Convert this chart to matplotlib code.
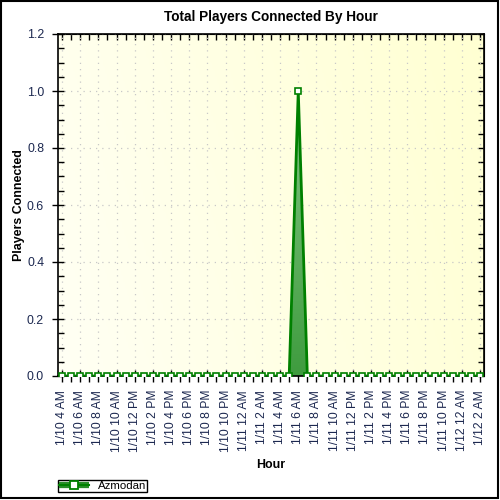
import numpy as np
import matplotlib
matplotlib.use("Agg")
import matplotlib.pyplot as plt
from matplotlib.colors import LinearSegmentedColormap
from matplotlib.patches import Rectangle
from matplotlib.lines import Line2D
from matplotlib.legend_handler import HandlerTuple

plt.rcParams['font.family'] = ['Liberation Sans', 'DejaVu Sans']

# ---- data ----
hour_labels = ["1/10 4 AM", "1/10 5 AM", "1/10 6 AM", "1/10 7 AM", "1/10 8 AM", "1/10 9 AM",
               "1/10 10 AM", "1/10 11 AM", "1/10 12 PM", "1/10 1 PM", "1/10 2 PM", "1/10 3 PM",
               "1/10 4 PM", "1/10 5 PM", "1/10 6 PM", "1/10 7 PM", "1/10 8 PM", "1/10 9 PM",
               "1/10 10 PM", "1/10 11 PM", "1/11 12 AM", "1/11 1 AM", "1/11 2 AM", "1/11 3 AM",
               "1/11 4 AM", "1/11 5 AM", "1/11 6 AM", "1/11 7 AM", "1/11 8 AM", "1/11 9 AM",
               "1/11 10 AM", "1/11 11 AM", "1/11 12 PM", "1/11 1 PM", "1/11 2 PM", "1/11 3 PM",
               "1/11 4 PM", "1/11 5 PM", "1/11 6 PM", "1/11 7 PM", "1/11 8 PM", "1/11 9 PM",
               "1/11 10 PM", "1/11 11 PM", "1/12 12 AM", "1/12 1 AM", "1/12 2 AM"]
players = [0, 0, 0, 0, 0, 0, 0, 0, 0, 0, 0, 0, 0, 0, 0, 0, 0, 0, 0, 0, 0, 0, 0, 0,
           0, 0, 1, 0, 0, 0, 0, 0, 0, 0, 0, 0, 0, 0, 0, 0, 0, 0, 0, 0, 0, 0, 0]
series_name = "Azmodan"
title = "Total Players Connected By Hour"
y_ticks = [0.0, 0.2, 0.4, 0.6, 0.8, 1.0, 1.2]

x = np.arange(len(players))
y = np.array(players, dtype=float)

fig = plt.figure(figsize=(5, 5), dpi=100)
ax = fig.add_axes([0.116, 0.248, 0.852, 0.684])

XL = (-0.44, len(x) - 1 + 0.44)
YL = (0, 1.2)
ax.set_xlim(*XL)
ax.set_ylim(*YL)

# background gradient
bg = LinearSegmentedColormap.from_list("bg", ["#fffff4", "#ffffd2"])
gx, gy = np.meshgrid(np.linspace(0, 1, 200), np.linspace(0, 1, 200))
ax.imshow(0.8 * gx + 0.2 * gy, cmap=bg, extent=(*XL, *YL),
          aspect='auto', origin='lower', zorder=0)

# ticks & grid
major_x = x[::2]
ax.set_xticks(major_x)
ax.set_xticklabels(hour_labels[::2], rotation=90, fontsize=8.7, color='#1c2850')
ax.set_xticks(x, minor=True)
ax.set_yticks(y_ticks)
ax.set_yticklabels([f"{v:.1f}" for v in y_ticks], fontsize=8.9, color='#1c2850')
ax.set_yticks(np.arange(0, 1.2001, 0.05), minor=True)
ax.grid(True, which='major', color='#c8c8c8', linestyle=(0, (1, 4)), linewidth=0.9, zorder=1)
ax.set_axisbelow(True)

# filled area with gradient
poly = ax.fill_between(x, y, 0, color='none', zorder=2)
fillcm = LinearSegmentedColormap.from_list("fill", ["#3f9c3f", "#84c684"])
im = ax.imshow(np.linspace(0, 1, 100).reshape(-1, 1), cmap=fillcm,
               extent=(x[0], x[-1], 0, 1.0), aspect='auto', origin='lower', zorder=2)
im.set_clip_path(poly.get_paths()[0], transform=ax.transData)
ax.set_xlim(*XL)
ax.set_ylim(*YL)

ax.plot(x, y, color='#008000', lw=2.0, marker='s', markersize=4.6,
        markerfacecolor='white', markeredgecolor='#008000', markeredgewidth=1.2, zorder=3)

ax.tick_params(axis='x', which='major', direction='inout', length=8, width=1, pad=6)
ax.tick_params(axis='x', which='minor', direction='out', length=4, width=1)
ax.tick_params(axis='y', which='major', direction='inout', length=8, width=1, pad=6)
ax.tick_params(axis='y', which='minor', direction='in', length=4, width=1)
for s in ax.spines.values():
    s.set_linewidth(1.2)
    s.set_color('black')

top = ax.secondary_xaxis('top')
top.set_xticks(x)
top.set_xticklabels([])
top.tick_params(direction='in', length=4, width=1)
right = ax.secondary_yaxis('right')
right.set_yticks(np.arange(0, 1.2001, 0.05))
right.set_yticklabels([])
right.tick_params(direction='in', length=4, width=1)

ax.set_title(title, fontsize=9.8, fontweight='bold', pad=9)
ax.set_ylabel("Players Connected", fontsize=8.9, fontweight='bold', labelpad=1)
ax.set_xlabel("Hour", fontsize=8.9, fontweight='bold', labelpad=5)

# legend
h_line = Line2D([], [], color='#2a8f2a', lw=4.5, solid_capstyle='butt')
h_mark = Line2D([], [], color='#008000', lw=1.5, marker='s', markersize=6,
                markerfacecolor='white', markeredgecolor='#008000', markeredgewidth=1.3)
fig.legend([(h_line, h_mark)], [series_name], handler_map={tuple: HandlerTuple(ndivide=1)},
           loc='lower left', bbox_to_anchor=(0.116, 0.016), fontsize=8.2, frameon=True,
           fancybox=False, edgecolor='black', framealpha=1, borderpad=0.1,
           handlelength=2.6, handletextpad=0.8, borderaxespad=0)

# outer border
fig.add_artist(Rectangle((0.002, 0.004), 0.993, 0.994, transform=fig.transFigure,
                         fill=False, edgecolor='black', linewidth=1.5))

fig.savefig("out.png", dpi=100)
